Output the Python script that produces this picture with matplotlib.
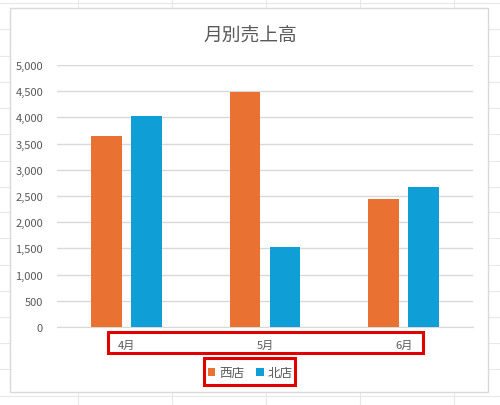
import numpy as np
import matplotlib.pyplot as plt
from matplotlib.lines import Line2D
from matplotlib.patches import Rectangle

plt.rcParams['font.family'] = ['Noto Sans CJK JP', 'DejaVu Sans']

# Daten
months = ['4月', '5月', '6月']
west = [3650, 4480, 2450]    # 西店
north = [4020, 1530, 2670]   # 北店
series_names = ['西店', '北店']
yticks = [0, 500, 1000, 1500, 2000, 2500, 3000, 3500, 4000, 4500, 5000]

my_orange = '#E97132'
my_blue = '#0F9ED5'
grid_grey = '#d9d9d9'
text_grey = '#595959'

W, H = 500, 406
fig = plt.figure(figsize=(W/100, H/100), dpi=100)

# Tabellen-Hintergrund (Excel Zellraster)
for xp in [78, 172, 266, 360, 454]:
    fig.add_artist(Line2D([xp/W, xp/W], [0, 1], transform=fig.transFigure,
                          color='#e8e8e8', lw=0.8, zorder=0))
for yp in [4, 30, 57, 83, 109, 135, 162, 188, 213, 239, 266, 292, 318, 344, 370, 397]:
    fig.add_artist(Line2D([0, 1], [1 - yp/H, 1 - yp/H], transform=fig.transFigure,
                          color='#e8e8e8', lw=0.8, zorder=0))

# Diagrammbereich
fig.add_artist(Rectangle((10/W, 1 - 393/H), 478/W, 384/H, transform=fig.transFigure,
                         facecolor='white', edgecolor=grid_grey, lw=1.0, zorder=1))

ax = fig.add_axes([57/W, 1 - 328/H, 416/W, 262/H], zorder=2)
ax.patch.set_alpha(0)

x = np.arange(len(months))
w = 0.223
off = 0.144
ax.bar(x - off, west, w, color=my_orange, label=series_names[0], zorder=3)
ax.bar(x + off, north, w, color=my_blue, label=series_names[1], zorder=3)

ax.set_xlim(-0.5, 2.5)
ax.set_ylim(0, 5000)
ax.set_yticks(yticks)
ax.set_yticklabels([f'{v:,}' for v in yticks])
ax.set_xticks(x)
ax.set_xticklabels(months)
ax.yaxis.grid(True, color=grid_grey, lw=1.0, zorder=0)
ax.set_axisbelow(True)
for s in ['top', 'right', 'left']:
    ax.spines[s].set_visible(False)
ax.spines['bottom'].set_color(grid_grey)
ax.tick_params(axis='both', length=0, labelsize=8, colors=text_grey)
ax.tick_params(axis='y', pad=10)
ax.tick_params(axis='x', pad=9)

fig.text(0.5, 1 - 35/H, '月別売上高', ha='center', va='center', fontsize=13.5, color=text_grey)

fig.legend(loc='center', bbox_to_anchor=(0.5, 1 - 374/H), ncol=2, frameon=False,
           fontsize=9, handlelength=0.6, handleheight=0.6, handletextpad=0.3,
           columnspacing=1.0, labelcolor=text_grey)

# rote Markierungen
fig.add_artist(Rectangle((108/W, 1 - 354/H), 315/W, 21/H, transform=fig.transFigure,
                         fill=False, edgecolor='#e00000', lw=2.2, zorder=5))
fig.add_artist(Rectangle((204/W, 1 - 386/H), 91/W, 27/H, transform=fig.transFigure,
                         fill=False, edgecolor='#e00000', lw=2.2, zorder=5))

fig.savefig('out.png', dpi=100)
